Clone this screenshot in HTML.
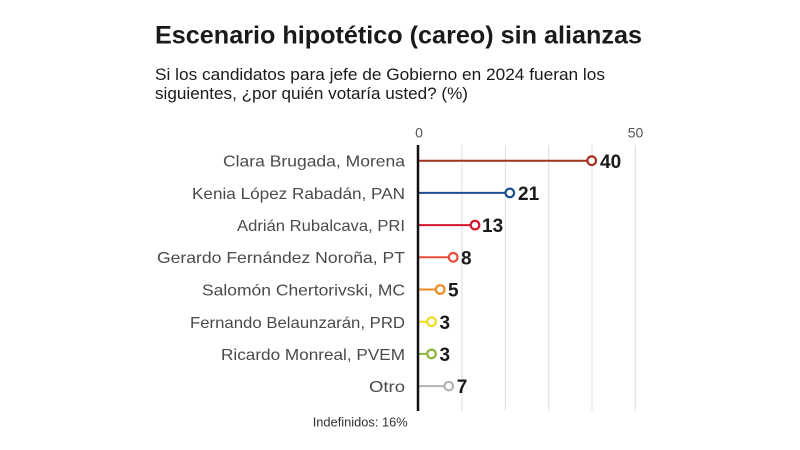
<!DOCTYPE html>
<html>
<head>
<meta charset="utf-8">
<style>
html,body{margin:0;padding:0;background:#fff;}
svg{display:block;}
</style>
</head>
<body>
<svg width="800" height="450" viewBox="0 0 800 450" xmlns="http://www.w3.org/2000/svg" font-family="'Liberation Sans', sans-serif">
<rect width="800" height="450" fill="#fff"/>
<text x="155" y="43.5" font-size="25" font-weight="bold" fill="#1a1a1a" textLength="487" lengthAdjust="spacingAndGlyphs">Escenario hipotético (careo) sin alianzas</text>
<text x="155" y="80" font-size="17" fill="#1a1a1a" textLength="450" lengthAdjust="spacingAndGlyphs">Si los candidatos para jefe de Gobierno en 2024 fueran los</text>
<text x="155" y="99" font-size="17" fill="#1a1a1a" textLength="313" lengthAdjust="spacingAndGlyphs">siguientes, ¿por quién votaría usted? (%)</text>

<!-- gridlines -->
<g stroke="#dcdcdc" stroke-width="1">
<line x1="462" y1="145" x2="462" y2="411"/>
<line x1="505.3" y1="145" x2="505.3" y2="411"/>
<line x1="548.7" y1="145" x2="548.7" y2="411"/>
<line x1="592" y1="145" x2="592" y2="411"/>
<line x1="635.3" y1="145" x2="635.3" y2="411"/>
</g>
<text x="419" y="137.5" font-size="14" fill="#555" text-anchor="middle">0</text>
<text x="635.5" y="137.5" font-size="14" fill="#555" text-anchor="middle">50</text>

<!-- category labels -->
<g font-size="16" fill="#4a4a4a" text-anchor="end">
<text x="405" y="166.5" textLength="182" lengthAdjust="spacingAndGlyphs">Clara Brugada, Morena</text>
<text x="405" y="199" textLength="213" lengthAdjust="spacingAndGlyphs">Kenia López Rabadán, PAN</text>
<text x="405" y="231" textLength="168" lengthAdjust="spacingAndGlyphs">Adrián Rubalcava, PRI</text>
<text x="405" y="263" textLength="248" lengthAdjust="spacingAndGlyphs">Gerardo Fernández Noroña, PT</text>
<text x="405" y="295.5" textLength="203" lengthAdjust="spacingAndGlyphs">Salomón Chertorivski, MC</text>
<text x="405" y="328" textLength="215" lengthAdjust="spacingAndGlyphs">Fernando Belaunzarán, PRD</text>
<text x="405" y="360" textLength="184" lengthAdjust="spacingAndGlyphs">Ricardo Monreal, PVEM</text>
<text x="405" y="392" textLength="36" lengthAdjust="spacingAndGlyphs">Otro</text>
</g>
<text x="407.7" y="426.7" font-size="13" fill="#333" text-anchor="end" textLength="95" lengthAdjust="spacingAndGlyphs">Indefinidos: 16%</text>

<!-- lollipops -->
<g stroke-width="2" fill="#fff">
<line x1="418.5" y1="160.7" x2="591.7" y2="160.7" stroke="#a3301f"/>
<circle cx="591.7" cy="160.7" r="4.3" stroke="#a3301f" stroke-width="2.2"/>
<line x1="418.5" y1="192.9" x2="509.5" y2="192.9" stroke="#1d4e8f"/>
<circle cx="509.8" cy="192.9" r="4.3" stroke="#1d4e8f" stroke-width="2.2"/>
<line x1="418.5" y1="225.1" x2="474.8" y2="225.1" stroke="#d7132b"/>
<circle cx="475" cy="225.1" r="4.3" stroke="#d7132b" stroke-width="2.2"/>
<line x1="418.5" y1="257.3" x2="453.2" y2="257.3" stroke="#e84b3a"/>
<circle cx="453.2" cy="257.3" r="4.3" stroke="#e84b3a" stroke-width="2.2"/>
<line x1="418.5" y1="289.5" x2="440.2" y2="289.5" stroke="#ee8a22"/>
<circle cx="440.2" cy="289.5" r="4.3" stroke="#ee8a22" stroke-width="2.2"/>
<line x1="418.5" y1="321.7" x2="431.5" y2="321.7" stroke="#f0dc1a"/>
<circle cx="431.5" cy="321.7" r="4.3" stroke="#f0dc1a" stroke-width="2.2"/>
<line x1="418.5" y1="353.9" x2="431.5" y2="353.9" stroke="#8fb43a"/>
<circle cx="431.5" cy="353.9" r="4.3" stroke="#8fb43a" stroke-width="2.2"/>
<line x1="418.5" y1="386.1" x2="448.8" y2="386.1" stroke="#b3b3b3"/>
<circle cx="448.8" cy="386.1" r="4.3" stroke="#b3b3b3" stroke-width="2.2"/>
</g>

<!-- axis -->
<line x1="418" y1="145" x2="418" y2="411" stroke="#111" stroke-width="2.5"/>

<!-- value labels -->
<g font-size="19" font-weight="bold" fill="#1a1a1a">
<text x="600" y="167.8">40</text>
<text x="518" y="200">21</text>
<text x="482" y="232.2">13</text>
<text x="461" y="264.4">8</text>
<text x="448" y="296.6">5</text>
<text x="439.5" y="328.8">3</text>
<text x="439.5" y="361">3</text>
<text x="456.8" y="393.2">7</text>
</g>
</svg>
</body>
</html>
